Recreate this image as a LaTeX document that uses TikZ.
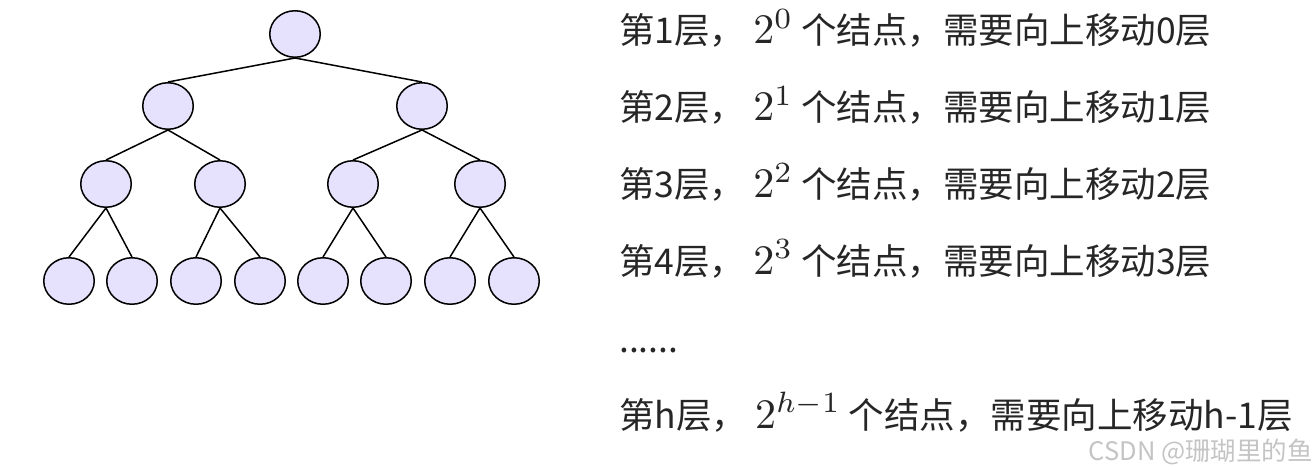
\documentclass[tikz,border=0pt]{standalone}
\usepackage{graphicx}
\usepackage[no-math]{fontspec}
\setmainfont{Noto Sans CJK SC}
\usetikzlibrary{shapes.geometric}

\definecolor{nodefill}{HTML}{E6E1FC}
\definecolor{txt}{HTML}{262626}
\definecolor{wmark}{HTML}{C4C4C4}

\newcommand{\powtwo}[1]{\scalebox{4.2}{\fontsize{10}{12}\selectfont$2^{#1}$}}

\tikzset{
  tnode/.style={ellipse, draw=black, line width=1.5pt, fill=nodefill,
    minimum width=50.5pt, minimum height=46.5pt, inner sep=0pt},
  link/.style={line width=1.5pt},
  row/.style={anchor=base west, text=txt, inner sep=0pt,
    font=\fontsize{35.5}{42}\selectfont}
}

\begin{document}
\begin{tikzpicture}[x=1pt, y=-1pt]
\useasboundingbox (0,0) rectangle (1316,470);

% tree
\node[tnode] (r) at (295,34) {};
\node[tnode] (a1) at (168,106) {};
\node[tnode] (a2) at (422,106) {};
\node[tnode] (b1) at (106,184) {};
\node[tnode] (b2) at (220,184) {};
\node[tnode] (b3) at (353,184) {};
\node[tnode] (b4) at (480,184) {};
\node[tnode] (c1) at (69,281) {};
\node[tnode] (c2) at (132,281) {};
\node[tnode] (c3) at (196,281) {};
\node[tnode] (c4) at (260,281) {};
\node[tnode] (c5) at (323,281) {};
\node[tnode] (c6) at (386,281) {};
\node[tnode] (c7) at (450,281) {};
\node[tnode] (c8) at (514,281) {};

\draw[link] (r.south) -- (a1.north);
\draw[link] (r.south) -- (a2.north);
\draw[link] (a1.south) -- (b1.north);
\draw[link] (a1.south) -- (b2.north);
\draw[link] (a2.south) -- (b3.north);
\draw[link] (a2.south) -- (b4.north);
\draw[link] (b1.south) -- (c1.north);
\draw[link] (b1.south) -- (c2.north);
\draw[link] (b2.south) -- (c3.north);
\draw[link] (b2.south) -- (c4.north);
\draw[link] (b3.south) -- (c5.north);
\draw[link] (b3.south) -- (c6.north);
\draw[link] (b4.south) -- (c7.north);
\draw[link] (b4.south) -- (c8.north);

% levels
\node[row] (l1) at (619,44) {第1层， \powtwo{0} 个结点，需要向上移动0层};
\node[row] (l2) at (619,121) {第2层， \powtwo{1} 个结点，需要向上移动1层};
\node[row] (l3) at (619,198) {第3层， \powtwo{2} 个结点，需要向上移动2层};
\node[row] (l4) at (619,274) {第4层， \powtwo{3} 个结点，需要向上移动3层};
\node[row] (l5) at (619,352) {......};
\node[row] (l6) at (619,428) {第h层， \powtwo{h-1} 个结点，需要向上移动h-1层};

\node[anchor=base east, text=wmark, inner sep=0pt,
  font=\fontsize{25.5}{30}\selectfont] (wm) at (1313,460) {CSDN @珊瑚里的鱼};
\end{tikzpicture}
\end{document}
